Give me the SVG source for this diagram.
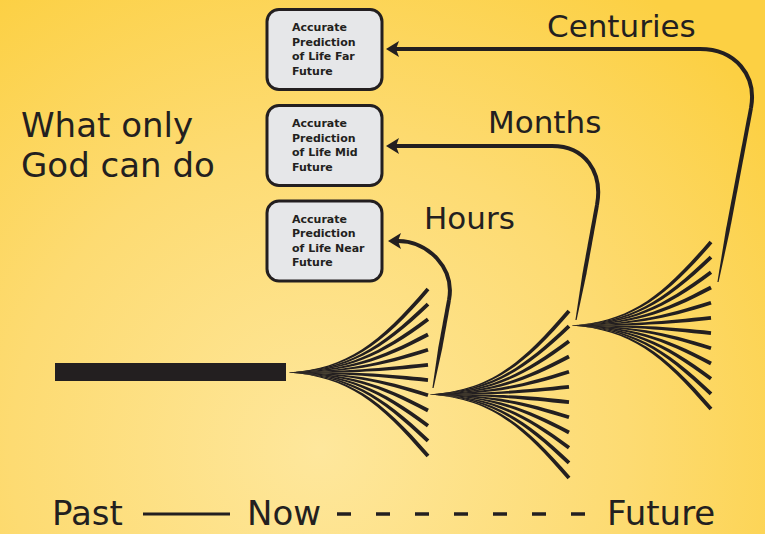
<svg xmlns="http://www.w3.org/2000/svg" xmlns:xlink="http://www.w3.org/1999/xlink" width="765" height="534" viewBox="0 0 765 534">
<style>
.ink{fill:#231f20}
.lbl{font-family:"DejaVu Sans","Verdana",sans-serif;fill:#231f20}
.box rect{fill:#e6e7e9;stroke:#231f20;stroke-width:3}
.box text{font-family:"DejaVu Sans",sans-serif;font-weight:bold;font-size:11px;fill:#231f20}
.conn{fill:none;stroke:#231f20;stroke-width:4}
</style>
<defs>
<radialGradient id="bg" gradientUnits="userSpaceOnUse" cx="320" cy="450" r="560">
<stop offset="0" stop-color="#fee79c"/>
<stop offset="0.55" stop-color="#fddb72"/>
<stop offset="1" stop-color="#fcd043"/>
</radialGradient>
<marker id="ah" viewBox="0 0 13 16" refX="3" refY="8" markerWidth="13" markerHeight="16" markerUnits="userSpaceOnUse" orient="auto-start-reverse">
<path d="M0 0 L13 8 L0 16 L3 8 Z" fill="#231f20"/>
</marker>
<g id="half" class="ink">
<path d="M0 0 C60 -4.34 90.56 -28.83 138.56 -84.84 L141.44 -82.36 C93.44 -26.35 60 -2.34 0 0Z"/>
<path d="M0 0 C60 -3.74 90.69 -23.94 138.69 -69.77 L141.31 -67.03 C93.31 -21.2 60 -1.74 0 0Z"/>
<path d="M0 0 C60 -3.13 90.87 -19.09 138.87 -54.73 L141.13 -51.67 C93.13 -16.03 60 -1.13 0 0Z"/>
<path d="M0 0 C60 -2.52 91.11 -14.22 139.11 -39.68 L140.89 -36.32 C92.89 -10.86 60 -0.52 0 0Z"/>
<path d="M0 0 C60 -1.91 91.42 -9.33 139.42 -24.61 L140.58 -20.99 C92.58 -5.71 60 0.09 0 0Z"/>
<path d="M0 0 C60 -1.3 91.8 -4.4 139.8 -9.49 L140.2 -5.71 C92.2 -0.62 60 0.7 0 0Z"/>
</g>
<g id="fan">
<use xlink:href="#half"/>
<use xlink:href="#half" transform="scale(1,-1)"/>
</g>
</defs>
<rect width="765" height="534" fill="url(#bg)"/>

<g id="past-bar"><rect class="ink" x="55" y="363" width="231" height="18"/></g>
<g id="fan-now"><use xlink:href="#fan" transform="translate(288,372.5)"/></g>
<g id="fan-hours"><use xlink:href="#fan" transform="translate(429,394.5)"/></g>
<g id="fan-months"><use xlink:href="#fan" transform="translate(571,325.5)"/></g>

<g id="box-centuries" class="box">
<rect x="267" y="9.5" width="115" height="80" rx="12"/>
<text x="292" y="31">Accurate</text>
<text x="292" y="45.5">Prediction</text>
<text x="292" y="60">of Life Far</text>
<text x="292" y="74.5">Future</text>
</g>
<g id="box-months" class="box">
<rect x="267" y="105.5" width="115" height="80" rx="12"/>
<text x="292" y="127">Accurate</text>
<text x="292" y="141.5">Prediction</text>
<text x="292" y="156">of Life Mid</text>
<text x="292" y="170.5">Future</text>
</g>
<g id="box-hours" class="box">
<rect x="267" y="201" width="115" height="80" rx="12"/>
<text x="292" y="222.5">Accurate</text>
<text x="292" y="237">Prediction</text>
<text x="292" y="251.5">of Life Near</text>
<text x="292" y="266">Future</text>
</g>

<g id="connectors">
<path class="conn" marker-start="url(#ah)" d="M396 49 L700 49 C735 49 757 75 751 108"/>
<polygon class="ink" points="752.96,108.37 729.86,230.17 718.59,282.11 717.41,281.89 725.94,229.43 749.04,107.63"/>
<path class="conn" marker-start="url(#ah)" d="M396 146 L552 146 C585 146 603 172 597 205"/>
<polygon class="ink" points="598.97,205.36 586.37,274.36 576.59,320.11 575.41,319.89 582.43,273.64 595.03,204.64"/>
<path class="conn" marker-start="url(#ah)" d="M398 241 C428 241 455 268 449 300"/>
<polygon class="ink" points="450.97,300.36 442.17,348.76 433.59,388.11 432.41,387.89 438.23,348.04 447.03,299.64"/>
</g>

<g id="labels">
<text class="lbl" x="547" y="37" font-size="31">Centuries</text>
<text class="lbl" x="488" y="133" font-size="31">Months</text>
<text class="lbl" x="424" y="229" font-size="31">Hours</text>
<text class="lbl" x="21" y="137" font-size="34">What only</text>
<text class="lbl" x="21" y="177" font-size="34">God can do</text>
</g>

<g id="timeline">
<text class="lbl" x="52" y="525" font-size="34">Past</text>
<line x1="143" y1="514" x2="230" y2="514" stroke="#231f20" stroke-width="3"/>
<text class="lbl" x="247" y="525" font-size="34">Now</text>
<line x1="337" y1="514" x2="588" y2="514" stroke="#231f20" stroke-width="3.5" stroke-dasharray="14 25"/>
<text class="lbl" x="607" y="525" font-size="34">Future</text>
</g>
</svg>
